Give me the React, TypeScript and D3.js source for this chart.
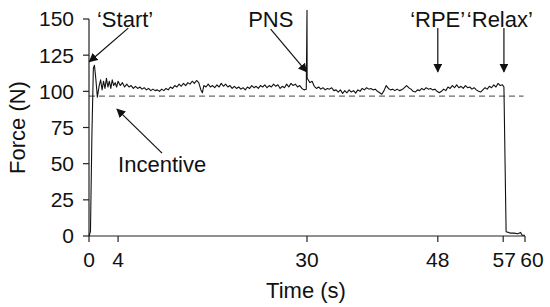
import * as d3 from 'd3'
import { useMemo } from 'react'

// force trace (s, N)
const time = [
  0, 0.2, 0.4, 0.6, 0.75, 0.95, 1.15, 1.4, 1.6, 1.8, 2.0, 2.2, 2.4, 2.6, 2.8, 3.0, 3.2, 3.4, 3.6, 3.8,
  4.0, 4.3, 4.6, 4.9, 5.2, 5.5, 5.8, 6.1, 6.4, 6.7, 7.0, 7.3, 7.6, 7.9, 8.2, 8.5, 8.8, 9.1, 9.4, 9.7,
  10.0, 10.3, 10.6, 10.9, 11.2, 11.5, 11.8, 12.1, 12.4, 12.7, 13.0, 13.3, 13.6, 13.9, 14.2, 14.5, 14.8, 15.1, 15.4, 15.6,
  15.8, 16.1, 16.4, 16.7, 17.0, 17.3, 17.6, 17.9, 18.2, 18.5, 18.8, 19.1, 19.4, 19.7, 20.0, 20.3, 20.6, 20.9, 21.2, 21.5,
  21.8, 22.1, 22.4, 22.7, 23.0, 23.3, 23.6, 23.9, 24.2, 24.5, 24.8, 25.1, 25.4, 25.7, 26.0, 26.3, 26.6, 26.9, 27.2, 27.5,
  27.8, 28.1, 28.4, 28.7, 29.0, 29.3, 29.6, 29.9, 30.0, 30.02, 30.4, 30.7, 31.0, 31.3, 31.6, 31.9, 32.2, 32.5, 32.8, 33.1,
  33.4, 33.7, 34.0, 34.3, 34.6, 34.9, 35.2, 35.5, 35.8, 36.1, 36.4, 36.7, 37.0, 37.3, 37.6, 37.9, 38.2, 38.5, 38.8, 39.1,
  39.4, 39.7, 40.0, 40.3, 40.6, 40.9, 41.2, 41.5, 41.8, 42.1, 42.4, 42.7, 43.0, 43.3, 43.7, 44.0, 44.3, 44.6, 44.9, 45.2,
  45.5, 45.8, 46.1, 46.4, 46.7, 47.0, 47.3, 47.6, 47.9, 48.2, 48.5, 48.8, 49.1, 49.4, 49.7, 50.0, 50.3, 50.6, 50.9, 51.2,
  51.5, 51.8, 52.1, 52.4, 52.7, 53.0, 53.3, 53.6, 53.9, 54.2, 54.5, 54.8, 55.1, 55.4, 55.7, 56.0, 56.3, 56.6, 56.9, 57.1,
  57.4, 58.0, 58.5, 59.0, 59.4, 59.6, 60.0,
]
const force = [
  0, 3, 70, 116, 118, 108, 96, 104, 108, 101, 107, 102, 109, 103, 107, 102, 108, 104, 106, 103,
  107, 104, 106, 103, 105, 103, 104, 102, 103.5, 102, 103, 101.5, 102.5, 101, 102, 100.5, 101.5, 100.5, 101, 100,
  101.5, 100.5, 102, 101, 103, 102, 104, 103, 105, 103.5, 105.5, 104, 106, 105, 107, 105.5, 107.5, 106, 101, 99,
  104, 103, 105, 103, 104, 102.5, 104.5, 103, 105.5, 103.5, 105, 103, 104, 102, 103.5, 102, 103, 101.5, 102.5, 101,
  103, 102, 104, 102.5, 103.5, 102, 104, 103, 104.5, 102.5, 104, 103, 105, 103.5, 104.5, 102, 103.5, 102.5, 105, 103,
  105.5, 104, 105, 103, 104, 102, 101, 101.5, 156, 109, 106, 107, 103.5, 102, 103, 101.5, 102.5, 101, 102, 101.5,
  102.5, 100.5, 101, 99.5, 101, 98.5, 100.5, 99, 101, 99.5, 100.5, 98.8, 101, 100, 102, 101, 102.5, 101.5, 102, 101,
  101.5, 100, 99, 98, 100.5, 104, 102, 101, 101.5, 100.5, 101.5, 100.5, 101, 102, 104, 102.5, 101.5, 100, 99.5, 101,
  100.5, 102, 101, 102.5, 101.5, 102, 101, 101.5, 100, 99, 100, 101.5, 100.5, 103, 102, 104, 102.5, 104.5, 102.5, 103.5,
  102, 104, 102.5, 103, 101.5, 102.5, 101, 100, 99.5, 101, 102.5, 101.5, 103.5, 102.5, 104.5, 103, 105.5, 104, 104.5, 103,
  3, 2, 2, 1.5, 2.5, 0.5, 0.5,
]

const incentive = 96.7
const xTicks = [0, 4, 30, 48, 57, 60]
const yTicks = [0, 25, 50, 75, 100, 125, 150]

// annotations in data units: label anchor and arrow tail -> tip
const labels = [
  { text: '\u2018Start\u2019', t: 1.1, v: 144.4 },
  { text: 'PNS', t: 21.9, v: 144.4 },
  { text: '\u2018RPE\u2019', t: 44.2, v: 144.4 },
  { text: '\u2018Relax\u2019', t: 52.0, v: 144.4 },
  { text: 'Incentive', t: 4.0, v: 44.2 },
]
const arrows = [
  { t0: 5.4, v0: 143.7, t1: 0.05, v1: 120.5 },
  { t0: 25.0, v0: 143.0, t1: 29.95, v1: 113.5 },
  { t0: 48, v0: 143.7, t1: 48, v1: 113.5 },
  { t0: 57.1, v0: 143.7, t1: 57.1, v1: 113.5 },
  { t0: 10.05, v0: 57.3, t1: 3.85, v1: 87.7 },
]

const W = 550
const H = 307
const font = '"Liberation Sans", Arial, Helvetica, sans-serif'

export default function App() {
  const x = d3.scaleLinear().domain([0, 60]).range([89, 525])
  const y = d3.scaleLinear().domain([0, 150]).range([236, 19])

  const tracePath = useMemo(() => {
    const line = d3
      .line<number>()
      .x((_, i) => x(time[i]))
      .y(d => y(d))
    return line(force)
  }, [])

  return (
    <svg
      width={W}
      height={H}
      viewBox={`0 0 ${W} ${H}`}
      style={{ position: 'absolute', left: 0, top: 0, background: '#fff' }}
      fontFamily={font}
    >
      <defs>
        <marker
          id="head"
          viewBox="0 0 10 10"
          refX="9"
          refY="5"
          markerWidth="9"
          markerHeight="9"
          markerUnits="userSpaceOnUse"
          orient="auto"
        >
          <path d="M0,0 L10,5 L0,10 z" fill="#111" />
        </marker>
      </defs>

      {/* incentive target */}
      <line
        x1={x(0)}
        x2={x(59.8)}
        y1={y(incentive)}
        y2={y(incentive)}
        stroke="#444"
        strokeWidth={1}
        strokeDasharray="6,4"
      />

      {/* axes */}
      <g stroke="#222" strokeWidth={1.2}>
        <line x1={x(0)} x2={x(0)} y1={y(0)} y2={y(150)} />
        {yTicks.map(t => (
          <line key={t} x1={x(0) - 6} x2={x(0)} y1={y(t)} y2={y(t)} />
        ))}
        <line x1={x(0)} x2={x(60)} y1={y(0)} y2={y(0)} />
        {xTicks.map(t => (
          <line key={t} x1={x(t)} x2={x(t)} y1={y(0)} y2={y(0) + 6} />
        ))}
      </g>
      <g fontSize={21} fill="#111">
        {yTicks.map(t => (
          <text key={t} x={x(0) - 15} y={y(t)} dy="0.35em" textAnchor="end">
            {t}
          </text>
        ))}
        {xTicks.map(t => (
          <text key={t} x={x(t) + (t === 60 ? 7 : t === 57 ? 1 : 0)} y={y(0) + 31} textAnchor="middle">
            {t}
          </text>
        ))}
      </g>
      <text x={306} y={298} fontSize={22} textAnchor="middle" fill="#111">
        Time (s)
      </text>
      <text
        transform={`translate(25, ${(y(0) + y(150)) / 2}) rotate(-90)`}
        fontSize={22}
        textAnchor="middle"
        fill="#111"
      >
        Force (N)
      </text>

      {/* trace */}
      <path d={tracePath ?? ''} fill="none" stroke="#111" strokeWidth={1.1} strokeLinejoin="round" />

      {/* annotations */}
      <g stroke="#111" strokeWidth={1.2}>
        {arrows.map((a, i) => (
          <line key={i} x1={x(a.t0)} y1={y(a.v0)} x2={x(a.t1)} y2={y(a.v1)} markerEnd="url(#head)" />
        ))}
      </g>
      <g fontSize={22} fill="#111">
        {labels.map(l => (
          <text key={l.text} x={x(l.t)} y={y(l.v)}>
            {l.text}
          </text>
        ))}
      </g>
    </svg>
  )
}
